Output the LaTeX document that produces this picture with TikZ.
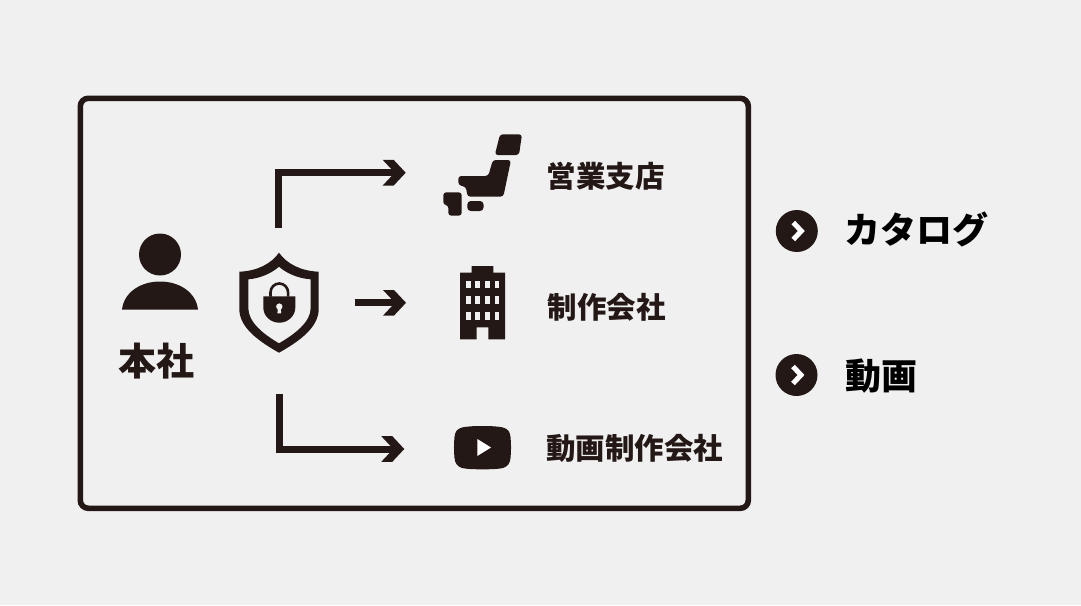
\documentclass[tikz,border=0pt]{standalone}
\usepackage{fontspec}
\newfontfamily\jp{Noto Sans CJK JP Black}
\definecolor{ink}{HTML}{231815}
\definecolor{paper}{HTML}{F0F0F0}
\tikzset{
  conn/.style={draw=ink,line width=7pt,shorten >=10pt},
  lab/.style={font=\jp\fontsize{29.5}{29.5}\selectfont,text=ink,inner sep=0pt,anchor=west},
  lab2/.style={font=\jp\fontsize{36}{36}\selectfont,text=black,inner sep=0pt,anchor=west},
  circ/.style={circle,fill=ink,minimum size=42pt,inner sep=0pt},
}
\begin{document}
\begin{tikzpicture}[x=1pt,y=-1pt]
\path[fill=paper] (0,0) rectangle (1081,605);
\useasboundingbox (0,0) rectangle (1081,605);
% frame
\node[draw=ink,line width=5.6pt,rounded corners=8pt,minimum width=668pt,minimum height=410pt,inner sep=0pt] (frame) at (414.3,303.3) {};
% person
\node[circle,fill=ink,minimum size=42pt,inner sep=0pt] (head) at (160,254.5) {};
\fill[ink] (122,309.5) .. controls (124,292) and (141,281.5) .. (160,281.5) .. controls (179,281.5) and (196,292) .. (198,309.5) -- cycle;
\node[font=\jp\fontsize{38}{38}\selectfont,text=ink,inner sep=0pt] (honsha) at (156.5,361) {本社};
% shield
\path[fill=ink,even odd rule] (279,252.7) .. controls (287,264) and (301,271) .. (318.7,271.7) -- (318.7,309) .. controls (318.7,328) and (298,342) .. (279,352.7) .. controls (260,342) and (239.3,328) .. (239.3,309) -- (239.3,271.7) .. controls (257,271) and (271,264) .. (279,252.7) -- cycle
(279,266.7) .. controls (272,273) and (260,278.5) .. (248.3,279.3) -- (248.3,308) .. controls (248.3,322) and (263,334) .. (279,343.3) .. controls (295,334) and (310.7,322) .. (310.7,308) -- (310.7,279.3) .. controls (298,278.5) and (286,273) .. (279,266.7) -- cycle;
\fill[ink] (263.3,296.3) -- (295.3,296.3) -- (295.3,307.5) arc[start angle=0,end angle=-180,x radius=16,y radius=-15.2] -- cycle;
\fill[paper] (279.3,306.6) circle[radius=3.2] (278,307) -- (280.6,307) -- (281.2,313.3) -- (277.4,313.3) -- cycle;
\draw[ink,line width=2.6pt] (270.5,296.5) -- (270.5,292.5) arc[start angle=180,end angle=0,x radius=8.8,y radius=-9] -- (288.1,296.5);
% connectors
\coordinate (a1s) at (278.5,228);
\coordinate (a1e) at (405.7,172.7);
\coordinate (a2s) at (354.7,302.8);
\coordinate (a2e) at (406,302.8);
\coordinate (a3s) at (279.8,394);
\coordinate (a3e) at (404.3,449);
\draw[conn] (a1s) |- (a1e);
\draw[conn] (a2s) -- (a2e);
\draw[conn] (a3s) |- (a3e);
\foreach \c in {a1e,a2e,a3e}{
  \fill[ink] (\c) -- ([shift={(-12,12.8)}]\c) -- ([shift={(-23,12.8)}]\c) -- ([shift={(-11,0)}]\c) -- ([shift={(-23,-12.8)}]\c) -- ([shift={(-12,-12.8)}]\c) -- cycle;
}
% japan
\fill[ink,rounded corners=3pt] (500,134.3) -- (522,134.3) -- (519,155) -- (494.8,155) -- cycle;
\fill[ink,rounded corners=3pt] (492.8,160) -- (511,160) -- (503.3,196.7) -- (467.5,196.7) -- (466,187) -- (458.3,185) -- (458.3,176) -- (488.3,176) -- cycle;
\fill[ink,rounded corners=3pt] (443.3,192.3) -- (461.7,192.3) -- (461.7,215.7) -- (448.3,215.7) -- (448.3,205) -- (443.3,205) -- cycle;
\fill[ink,rounded corners=3.5pt] (467.3,201) rectangle (483.5,211);
% building
\fill[ink] (460,272.7) -- (471.7,272.7) -- (471.7,266) -- (493.3,266) -- (493.3,272.7) -- (505,272.7) -- (505,339.3) -- (488.3,339.3) -- (488.3,327.3) -- (476.7,327.3) -- (476.7,339.3) -- (460,339.3) -- cycle;
\foreach \yy in {280.7,296.3,312}{
  \foreach \xx in {466,475.4,485,494.6}{
    \fill[paper] (\xx,\yy) rectangle ++(4.8,7.6);
  }
}
% video
\fill[ink] (482.5,426) .. controls (492,426) and (499,426.5) .. (503,427.5) .. controls (508,428.7) and (510,432) .. (510.5,437) .. controls (511.2,444) and (511.2,451) .. (510.5,458) .. controls (510,463) and (508,466.5) .. (503,468) .. controls (499,469) and (492,469.3) .. (482.5,469.3) .. controls (473,469.3) and (466,469) .. (462,468) .. controls (457,466.5) and (455,463) .. (454.5,458) .. controls (453.8,451) and (453.8,444) .. (454.5,437) .. controls (455,432) and (457,428.7) .. (462,427.5) .. controls (466,426.5) and (473,426) .. (482.5,426) -- cycle;
\fill[white] (477.3,439) -- (491,447.5) -- (477.3,456) -- cycle;
% labels
\node[lab] (l1) at (546.5,176) {営業支店};
\node[lab] (l2) at (547.5,307) {制作会社};
\node[lab] (l3) at (546,448.5) {動画制作会社};
% right
\node[circ] (c1) at (796.8,231) {};
\node[circ] (c2) at (796.5,375) {};
\foreach \c in {c1,c2}{
  \draw[white,line width=5pt] ([shift={(-3.5,-8.5)}]\c.center) -- ([shift={(4.5,0)}]\c.center) -- ([shift={(-3.5,8.5)}]\c.center);
}
\node[lab2] (r1) at (844,229.5) {カタログ};
\node[lab2] (r2) at (845,376) {動画};
\end{tikzpicture}
\end{document}
